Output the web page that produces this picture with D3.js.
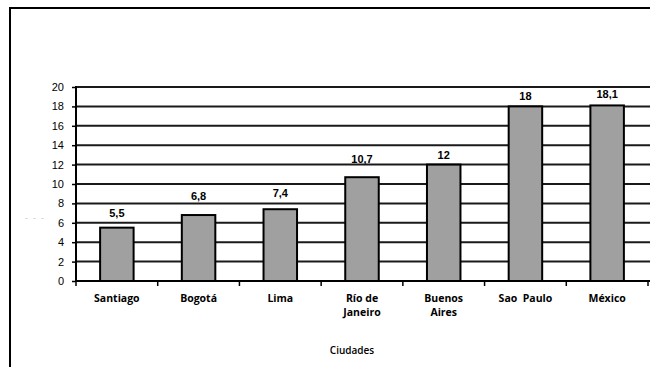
<!DOCTYPE html>
<html>
<head>
<meta charset="utf-8">
<script src="https://cdn.jsdelivr.net/npm/d3@7"></script>
<style>
  body { margin: 0; background: #fff; }
  svg { display: block; }
</style>
</head>
<body>
<svg id="chart"></svg>
<script>
// data
const cities = ["Santiago", "Bogotá", "Lima", "Río de|Janeiro", "Buenos|Aires", "Sao  Paulo", "México"];
const values = [5.5, 6.8, 7.4, 10.7, 12, 18, 18.1];
const valueLabels = ["5,5", "6,8", "7,4", "10,7", "12", "18", "18,1"];
const yTicks = [0, 2, 4, 6, 8, 10, 12, 14, 16, 18, 20];

const width = 650, height = 367;
const plot = { left: 76, right: 648, top: 87, bottom: 281 };

// gap between label baseline and bar top, as placed in the original
const labelGap = [11, 15, 12, 14, 6, 6, 7];

const svg = d3.select("#chart")
  .attr("width", width)
  .attr("height", height);

// outer frame (cropped on the right and bottom)
svg.append("path")
  .attr("d", `M10,${height + 2} L10,8 L${width + 2},8`)
  .attr("fill", "none")
  .attr("stroke", "#000")
  .attr("stroke-width", 2);

const x = d3.scaleBand()
  .domain(cities)
  .range([plot.left, plot.right])
  .paddingInner(0.59)
  .paddingOuter(0.295);

const y = d3.scaleLinear()
  .domain([0, 20])
  .range([plot.bottom, plot.top]);

// gridlines
svg.append("g")
  .selectAll("line")
  .data(yTicks.filter(d => d > 0))
  .join("line")
  .attr("x1", plot.left)
  .attr("x2", width)
  .attr("y1", d => y(d))
  .attr("y2", d => y(d))
  .attr("stroke", "#1a1a1a")
  .attr("stroke-width", 2);

// y axis
const yAxis = d3.axisLeft(y)
  .tickValues(yTicks)
  .tickSize(4)
  .tickPadding(8)
  .tickFormat(d3.format("d"));

const yAxisGroup = svg.append("g")
  .attr("transform", `translate(${plot.left},0)`)
  .call(yAxis);
yAxisGroup.select(".domain").remove();
yAxisGroup.selectAll(".tick line").attr("stroke", "#000").attr("stroke-width", 1.5);
yAxisGroup.selectAll(".tick text")
  .attr("font-family", "'Liberation Sans', Arial, sans-serif")
  .attr("font-size", 11)
  .attr("fill", "#000");

// bars
svg.append("g")
  .selectAll("rect")
  .data(cities)
  .join("rect")
  .attr("x", d => x(d))
  .attr("width", x.bandwidth())
  .attr("y", (d, i) => y(values[i]))
  .attr("height", (d, i) => y(0) - y(values[i]))
  .attr("fill", "#a0a0a0")
  .attr("stroke", "#000")
  .attr("stroke-width", 2);

// axis lines
svg.append("line")
  .attr("x1", plot.left).attr("x2", plot.left)
  .attr("y1", plot.top - 1).attr("y2", plot.bottom + 1)
  .attr("stroke", "#000").attr("stroke-width", 2);

svg.append("line")
  .attr("x1", plot.left).attr("x2", width)
  .attr("y1", plot.bottom).attr("y2", plot.bottom)
  .attr("stroke", "#000").attr("stroke-width", 2);

// x ticks between categories
const step = x.step();
svg.append("g")
  .selectAll("line")
  .data(d3.range(cities.length + 1))
  .join("line")
  .attr("x1", i => plot.left + i * step)
  .attr("x2", i => plot.left + i * step)
  .attr("y1", plot.bottom)
  .attr("y2", plot.bottom + 5)
  .attr("stroke", "#000")
  .attr("stroke-width", 1.5);

// value labels
svg.append("g")
  .selectAll("text")
  .data(cities)
  .join("text")
  .attr("x", d => x(d) + x.bandwidth() / 2)
  .attr("y", (d, i) => y(values[i]) - labelGap[i])
  .attr("text-anchor", "middle")
  .attr("font-family", "'Liberation Sans', Arial, sans-serif")
  .attr("font-size", 11)
  .attr("font-weight", "bold")
  .text((d, i) => valueLabels[i]);

// category labels
const catText = svg.append("g")
  .selectAll("text")
  .data(cities)
  .join("text")
  .attr("x", d => x(d) + x.bandwidth() / 2)
  .attr("y", 301.5)
  .attr("text-anchor", "middle")
  .attr("font-family", "'Open Sans', sans-serif")
  .attr("font-size", 10.5)
  .attr("font-weight", "bold")
  .style("white-space", "pre");

catText.each(function(d) {
  const lines = d.split("|");
  const t = d3.select(this);
  lines.forEach((line, i) => {
    t.append("tspan")
      .attr("x", t.attr("x"))
      .attr("dy", i === 0 ? 0 : 14.5)
      .text(line);
  });
});

// axis title
svg.append("text")
  .attr("x", 352)
  .attr("y", 353.5)
  .attr("text-anchor", "middle")
  .attr("font-family", "'Open Sans', sans-serif")
  .attr("font-size", 10)
  .attr("font-weight", 600)
  .text("Ciudades");

// faint remnant of the y title
svg.append("text")
  .attr("x", 25)
  .attr("y", 221)
  .attr("font-family", "'Liberation Sans', Arial, sans-serif")
  .attr("font-size", 9)
  .attr("fill", "#c8c8c8")
  .style("white-space", "pre")
  .text("-  -  -");
</script>
</body>
</html>
